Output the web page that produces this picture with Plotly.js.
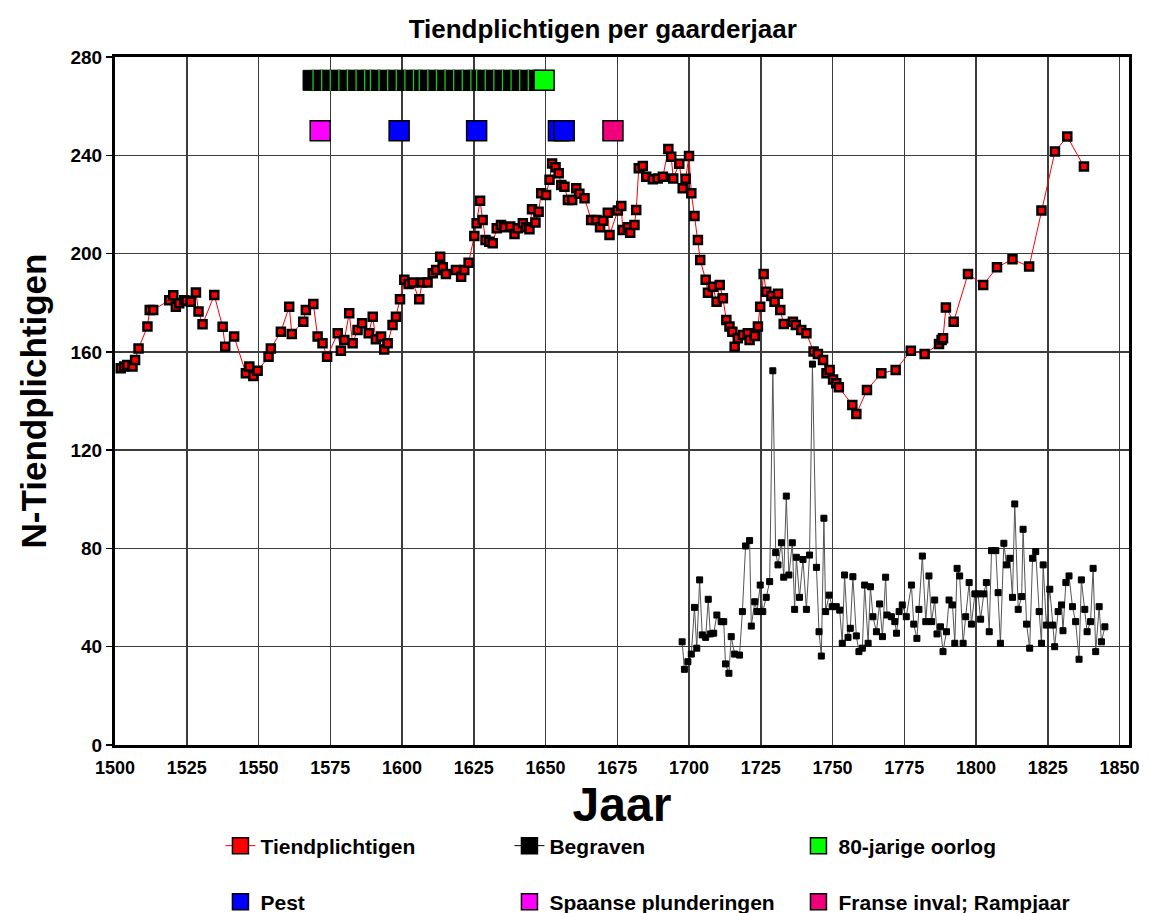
<!DOCTYPE html>
<html>
<head>
<meta charset="utf-8">
<script src="https://cdn.plot.ly/plotly-3.0.1.min.js"></script>
<style>html,body{margin:0;padding:0;background:#fff}#chart{width:1151px;height:913px}</style>
</head>
<body>
<div id="chart"></div>
<script>
// Tiendplichtigen (tithe payers) per year
const tiendYears = [1502.0,1503.2,1504.3,1506.1,1507.0,1508.2,1511.3,1512.1,1513.3,1518.9,1520.3,1521.2,1522.4,1524.1,1524.9,1526.4,1528.2,1529.1,1530.5,1534.6,1537.5,1538.4,1541.5,1545.6,1546.8,1548.2,1549.7,1553.5,1554.3,1557.8,1560.7,1561.6,1565.6,1566.5,1569.1,1570.6,1572.3,1573.9,1577.6,1578.7,1579.9,1581.6,1582.8,1584.5,1586.1,1588.4,1589.8,1590.9,1592.7,1593.8,1595.0,1596.7,1597.9,1599.3,1600.8,1602.3,1603.7,1606.0,1607.0,1608.9,1610.7,1611.9,1613.3,1614.2,1615.3,1618.8,1620.6,1621.7,1623.2,1625.2,1626.0,1627.2,1628.1,1629.1,1630.4,1631.6,1633.0,1634.5,1635.7,1637.7,1639.2,1640.3,1642.1,1643.3,1644.4,1645.3,1646.5,1647.6,1648.5,1650.2,1651.4,1652.3,1653.5,1654.6,1655.5,1656.6,1657.8,1659.3,1660.7,1661.8,1663.6,1665.9,1667.7,1669.0,1670.0,1671.7,1672.3,1675.2,1676.4,1676.9,1678.7,1679.5,1681.0,1681.6,1682.5,1683.9,1685.1,1687.4,1689.1,1690.9,1692.8,1693.8,1694.5,1696.6,1697.8,1698.8,1700.0,1700.8,1701.9,1703.1,1703.9,1705.8,1706.6,1708.3,1709.6,1710.7,1711.8,1713.0,1714.1,1715.1,1715.9,1717.0,1718.8,1720.5,1721.1,1722.9,1724.0,1724.8,1726.0,1726.9,1728.7,1729.8,1731.0,1731.8,1733.0,1736.2,1737.2,1739.1,1740.9,1743.4,1744.9,1746.7,1747.9,1749.0,1750.2,1751.3,1752.2,1756.9,1758.3,1762.0,1767.0,1772.0,1777.3,1782.1,1787.1,1788.0,1788.5,1789.5,1792.2,1797.2,1802.5,1807.3,1812.7,1818.5,1822.8,1827.5,1831.8,1837.6];
const tiendValues = [153.3,154,154.7,154,156.7,161.4,170.3,177,177,181,183,178.4,179.8,181,180.8,180.4,184.2,176.4,171.2,183.1,170.2,162.1,166.2,151.3,154,150.2,152.3,158,161.4,168.2,178.4,167.3,172.3,177,179.5,166.2,163.5,158,167.6,160.5,164.8,175.7,163.5,168.9,171.6,167.6,174.3,165.1,166.2,161,163.5,170.9,174.3,181.4,189.3,187.6,188.2,181.4,188.2,188.2,192,193.3,198.7,194.4,191.7,193.3,190.6,193.3,196.3,207.2,212.3,221.5,213.7,205.5,204.8,204.2,210.3,211.6,210.7,211,208,210.3,212.3,210.7,209.9,218,212.6,217,224.5,223.8,230,236.7,235.1,232.7,227.9,227.2,221.8,221.8,226.6,224.3,222.5,213.7,213.7,210.7,213.4,216.6,207.6,217.5,219.4,209.6,210.7,208.5,211.6,217.7,234.7,235.6,231.3,230.2,230.6,231.3,242.6,239.4,230.6,236.6,226.6,230.4,239.7,224.5,215.3,205.5,197.4,189.3,184.1,186.5,180.4,187.2,181.8,173,170.3,168.2,162.1,165.5,166.9,167.6,164.8,166.5,170.3,178.4,191.7,184.5,182.7,180.4,183.6,177,171.3,172.3,170.9,168.9,167.6,160.1,159.1,156.7,151.3,152.6,148.8,147.2,145.6,138.4,134.7,144.5,151.3,152.6,160.5,159.1,163.2,164.8,165.5,178.1,172.3,191.7,187.2,194.4,197.7,194.7,217.5,241.5,247.6,235.4];

// Begraven (burials) per year
const begrYears = [1697.6,1698.4,1699.6,1700.8,1701.9,1702.7,1703.7,1704.6,1705.8,1706.7,1707.4,1708.6,1709.7,1711.2,1712.1,1712.7,1713.9,1714.7,1715.9,1717.6,1718.6,1719.7,1721.1,1721.7,1722.9,1723.7,1724.8,1725.7,1726.9,1728.1,1729.2,1730.2,1731.0,1732.2,1733.0,1733.9,1734.8,1736.0,1736.8,1737.4,1738.5,1739.7,1740.9,1742.0,1743.0,1744.4,1745.3,1746.1,1747.0,1747.6,1748.8,1749.9,1751.3,1752.5,1753.4,1754.2,1755.4,1756.2,1757.1,1758.3,1759.2,1760.4,1761.2,1762.4,1763.2,1764.1,1765.3,1766.4,1767.4,1768.5,1769.0,1770.5,1771.7,1772.3,1773.2,1774.3,1775.7,1777.5,1778.3,1779.4,1780.1,1781.3,1782.5,1783.6,1784.5,1785.6,1786.4,1787.6,1788.5,1789.7,1790.6,1791.8,1792.6,1793.4,1794.3,1795.5,1796.4,1797.6,1798.4,1799.6,1800.7,1801.6,1802.7,1803.6,1804.6,1805.4,1806.9,1807.7,1808.5,1809.7,1810.6,1811.8,1812.7,1813.5,1814.7,1815.9,1816.4,1817.6,1818.7,1819.7,1820.8,1822.0,1822.8,1823.4,1824.5,1825.7,1826.7,1827.4,1828.6,1829.8,1830.3,1831.3,1832.4,1833.6,1834.7,1835.9,1836.7,1837.9,1838.7,1839.9,1840.8,1841.7,1842.9,1843.7,1844.9];
const begrValues = [42,30.8,33.9,37,56,39.4,67.2,44.8,43.8,59.3,45.2,45.5,52.9,50.2,50.2,33,29.2,44.1,37,36.6,54.3,81,83.2,48.4,58.3,54.3,65.1,54.3,60.1,66.5,152.3,78.3,73.3,82.3,68.3,101.3,69.2,82.3,55.2,76.4,60.1,75.5,55.2,77.3,155,72.3,46.1,36.2,92.3,54.3,61,56.3,56.3,54.9,41.4,69.2,43.8,47.5,68.5,44.4,38,39.4,65.1,41.4,64.4,52.2,46.1,57.4,44.1,68.3,52.9,52.2,50.2,45.5,54.3,57,52.2,65.1,49.2,43.4,55.2,76.9,50.2,68.8,50.2,59,45.2,48.1,38,46.1,59,57,41.4,71.9,68.8,41.4,52.2,66.1,49.2,61.5,61.5,51.2,61.5,66.1,46.1,79.1,79.1,62,41.4,82.1,73.3,76,60.1,98.1,55.2,60.4,87.8,49.2,39.4,76,78.7,54.3,41.4,73.3,48.8,63.4,48.8,40,54.3,57,46.5,66.1,68.8,56.3,50.2,34.9,67.2,55.2,46.1,50.2,71.9,38,56.3,42,48.1];

// Events (markers in the upper part of the chart)
const warYears = [1569,1572,1575,1578,1581,1584,1587,1589,1592,1595,1598,1601,1604,1606,1609,1612,1615,1618,1621,1624,1626,1629,1632,1635,1638,1641,1644,1647];
const warEndYear = [1649.5];
const warLevel = 270.5;
const pestYears = [1599, 1626, 1654.5, 1656.5];
const spaanseYears = [1571.5];
const franseYears = [1673.5];
const eventLevel = 250;

const xTicks = [1500,1525,1550,1575,1600,1625,1650,1675,1700,1725,1750,1775,1800,1825,1850];
const yTicks = [0,40,80,120,160,200,240,280];

const FONT = 'Liberation Sans, Arial, sans-serif';
const same = (arr, v) => arr.map(() => v);

const traces = [
  { type:'scatter', mode:'lines+markers', x: tiendYears, y: tiendValues, showlegend:false,
    line:{color:'#ff0000', width:1},
    marker:{symbol:'square', size:8, color:'#ff0000', line:{color:'#000', width:2.5}} },
  { type:'scatter', mode:'lines+markers', x: begrYears, y: begrValues, showlegend:false,
    line:{color:'#555', width:1},
    marker:{symbol:'square', size:6, color:'#000', line:{color:'#000', width:1}} },
  // legend-only entries
  { type:'scatter', mode:'lines+markers', x:[null], y:[null], name:'Tiendplichtigen', legend:'legend',
    line:{color:'#ff0000', width:1}, marker:{symbol:'square', size:16, color:'#ff0000', line:{color:'#000', width:1.5}} },
  { type:'scatter', mode:'lines+markers', x:[null], y:[null], name:'Begraven', legend:'legend',
    line:{color:'#000', width:1}, marker:{symbol:'square', size:16, color:'#000', line:{color:'#000', width:1.5}} },
  // 80-jarige oorlog bar
  { type:'scatter', mode:'markers', x: warYears, y: same(warYears, warLevel), showlegend:false,
    marker:{symbol:'square', size:20, color:'#000', line:{color:'#000', width:1}} },
  { type:'scatter', mode:'markers', x: warYears, y: same(warYears, warLevel), showlegend:false,
    marker:{symbol:'line-ns-open', size:15, color:'#19c819', line:{width:1.3}} },
  { type:'scatter', mode:'markers', x: warEndYear, y: same(warEndYear, warLevel), name:'80-jarige oorlog', legend:'legend',
    marker:{symbol:'square', size:20, color:'#00ff00', line:{color:'#000', width:1.5}} },
  { type:'scatter', mode:'markers', x: pestYears, y: same(pestYears, eventLevel), name:'Pest', legend:'legend2',
    marker:{symbol:'square', size:20, color:'#0000ff', line:{color:'#000', width:1.5}} },
  { type:'scatter', mode:'markers', x: spaanseYears, y: same(spaanseYears, eventLevel), name:'Spaanse plunderingen', legend:'legend2',
    marker:{symbol:'square', size:20, color:'#ff00ff', line:{color:'#000', width:1.5}} },
  { type:'scatter', mode:'markers', x: franseYears, y: same(franseYears, eventLevel), name:'Franse inval; Rampjaar', legend:'legend2',
    marker:{symbol:'square', size:20, color:'#f0007a', line:{color:'#000', width:1.5}} }
];

const legendCommon = {
  orientation:'h', xanchor:'left', yanchor:'middle', x: 0.104,
  entrywidth: 244, entrywidthmode:'pixels', bgcolor:'rgba(0,0,0,0)',
  font:{family:FONT, size:21, color:'#000', weight:700}, traceorder:'normal'
};

const layout = {
  width:1151, height:913,
  margin:{l:115, r:22, t:57, b:168, autoexpand:false},
  paper_bgcolor:'#fff', plot_bgcolor:'#fff',
  font:{family:FONT, color:'#000'},
  title:{text:'Tiendplichtigen per gaarderjaar', x:0.481, xref:'paper', xanchor:'center',
    y:1-29/913, yref:'container', yanchor:'middle',
    font:{family:FONT, size:26, weight:700, color:'#000'}},
  xaxis:{range:[1500, 1853.3], tickvals:xTicks, ticktext:xTicks.map(String),
    showgrid:true, gridcolor:'#3c3c3c', gridwidth:1.5, zeroline:false,
    showline:true, linecolor:'#000', linewidth:3, mirror:true,
    ticks:'', ticklabelstandoff:4,
    tickfont:{family:FONT, size:18, weight:700, color:'#000'},
    title:{text:'Jaar', font:{family:FONT, size:48, weight:700, color:'#000'}, standoff:6}},
  yaxis:{range:[0, 280], tickvals:yTicks, ticktext:yTicks.map(String),
    showgrid:true, gridcolor:'#3c3c3c', gridwidth:1.5, zeroline:false,
    showline:true, linecolor:'#000', linewidth:3, mirror:true,
    ticks:'outside', ticklen:6, tickcolor:'#000', tickwidth:1.5,
    tickfont:{family:FONT, size:19, weight:700, color:'#000'},
    title:{text:'N-Tiendplichtigen', font:{family:FONT, size:35, weight:700, color:'#000'}, standoff:14}},
  legend: Object.assign({}, legendCommon, {y:(745-846)/688}),
  legend2: Object.assign({}, legendCommon, {y:(745-902)/688})
};

Plotly.newPlot('chart', traces, layout, {staticPlot:true, displayModeBar:false});
</script>
</body>
</html>
